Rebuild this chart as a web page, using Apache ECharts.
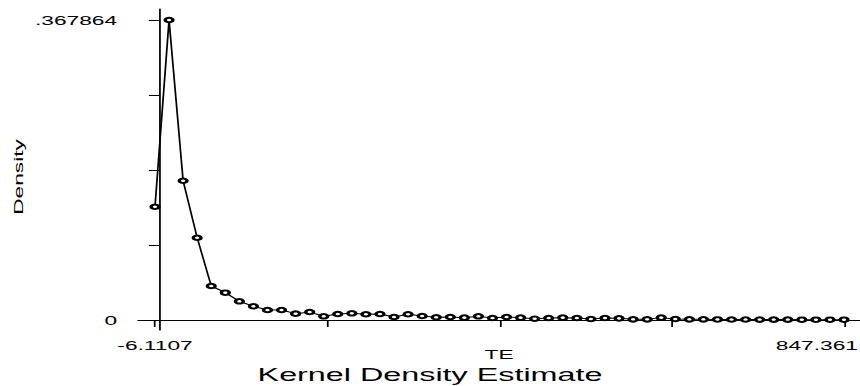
<!DOCTYPE html>
<html>
<head>
<meta charset="utf-8">
<script src="https://cdn.jsdelivr.net/npm/echarts@6/dist/echarts.min.js"></script>
<style>
html,body{margin:0;padding:0;background:#fff;overflow:hidden;width:860px;height:386px;}
#wrap{width:860px;height:386px;overflow:hidden;position:relative;}
#chart{width:492px;height:386px;transform:scaleX(1.748);transform-origin:0 0;position:absolute;left:0;top:0;}
</style>
</head>
<body>
<div id="wrap"><div id="chart"></div></div>
<script>
// Data
const teValues = [
  -6.1107, 11.3071, 28.7249, 46.1427, 63.5605, 80.9783, 98.3960, 115.8138, 133.2316, 150.6494,
  168.0672, 185.4850, 202.9028, 220.3206, 237.7384, 255.1562, 272.5740, 289.9917, 307.4095, 324.8273,
  342.2451, 359.6629, 377.0807, 394.4985, 411.9163, 429.3341, 446.7519, 464.1697, 481.5874, 499.0052,
  516.4230, 533.8408, 551.2586, 568.6764, 586.0942, 603.5120, 620.9298, 638.3476, 655.7654, 673.1831,
  690.6009, 708.0187, 725.4365, 742.8543, 760.2721, 777.6899, 795.1077, 812.5255, 829.9433, 847.3610
];
const densityValues = [
  0.1389, 0.367864, 0.1708, 0.1009, 0.0417, 0.0335, 0.0229, 0.0168, 0.0123, 0.0123,
  0.0078, 0.0098, 0.0045, 0.0074, 0.0082, 0.0070, 0.0074, 0.0037, 0.0070, 0.0049,
  0.0033, 0.0037, 0.0029, 0.0045, 0.0025, 0.0037, 0.0029, 0.0016, 0.0025, 0.0029,
  0.0025, 0.0012, 0.0025, 0.0020, 0.0008, 0.0008, 0.0029, 0.0012, 0.0008, 0.0008,
  0.0007, 0.0006, 0.0006, 0.0005, 0.0005, 0.0005, 0.0004, 0.0004, 0.0004, 0.0004
];
const xTickValues = [-6.1107, 207.2573, 420.6252, 633.9931, 847.361];
const xLabelValues = [-6.1107, 847.361];
const xLabelTexts = ['-6.1107', '847.361'];
const yTickValues = [0, 0.091966, 0.183932, 0.275898, 0.367864];
const yLabelValues = [0, 0.367864];
const yLabelTexts = ['0', '.367864'];
const xTitle = 'TE';
const yTitle = 'Density';
const chartTitle = 'Kernel Density Estimate';

const FONT = 'Liberation Sans, Arial, sans-serif';
const SX = 1.748; // horizontal stretch of the whole drawing
const seriesData = teValues.map((x, i) => [x, densityValues[i]]);
function pickIndex(values, v) {
  let best = 0, bd = Infinity;
  values.forEach((c, i) => { const d = Math.abs(c - v); if (d < bd) { bd = d; best = i; } });
  return best;
}

const chart = echarts.init(document.getElementById('chart'), null, {renderer: 'svg'});
chart.setOption({
  animation: false,
  backgroundColor: '#fff',
  title: {
    text: chartTitle,
    left: 'center',
    top: 360,
    textStyle: {fontFamily: FONT, fontSize: 18.5, fontWeight: 'normal', color: '#000'}
  },
  grid: {left: 79, right: 0, top: 9, bottom: 56, containLabel: false, outerBoundsMode: 'none'},
  xAxis: {
    type: 'value',
    min: -27.04,
    max: 867.18,
    name: xTitle,
    nameLocation: 'middle',
    nameGap: 18,
    nameMoveOverlap: false,
    nameTextStyle: {fontFamily: FONT, fontSize: 13, color: '#000'},
    axisLine: {show: true, lineStyle: {color: '#000', width: 1}},
    axisTick: {show: true, length: 7, customValues: xTickValues, lineStyle: {color: '#000', width: 1}},
    axisLabel: {
      show: true, customValues: xLabelValues, margin: 9,
      fontFamily: FONT, fontSize: 13, color: '#000',
      alignMaxLabel: 'right',
      formatter: v => {
        const i = pickIndex(xLabelValues, v);
        return i === xLabelValues.length - 1 ? '{r|' + xLabelTexts[i] + '}' : xLabelTexts[i];
      },
      rich: {r: {fontFamily: FONT, fontSize: 13, color: '#000', width: 39, align: 'left'}}
    },
    splitLine: {show: false}
  },
  yAxis: {
    type: 'value',
    min: -0.012262,
    max: 0.381352,
    axisLine: {show: true, lineStyle: {color: '#000', width: 1}},
    axisTick: {show: true, length: 6.3, customValues: yTickValues, lineStyle: {color: '#000', width: 1}},
    axisLabel: {
      show: true, customValues: yLabelValues, margin: 12,
      fontFamily: FONT, fontSize: 13, color: '#000',
      padding: [5, 0, 0, 0],
      formatter: v => yLabelTexts[pickIndex(yLabelValues, v)]
    },
    splitLine: {show: false}
  },
  graphic: [{
    type: 'text',
    x: 18.5 / SX,
    y: 177,
    rotation: Math.PI / 2,
    scaleX: SX,
    scaleY: 1 / SX,
    style: {text: yTitle, fontFamily: FONT, fontSize: 13, fill: '#000', align: 'center', verticalAlign: 'middle'}
  }],
  series: [{
    type: 'line',
    data: seriesData,
    symbol: 'emptyCircle',
    symbolSize: 4.5,
    showSymbol: true,
    lineStyle: {color: '#000', width: 1},
    itemStyle: {color: '#000', borderColor: '#000', borderWidth: 0.7}
  }]
});
</script>
</body>
</html>
